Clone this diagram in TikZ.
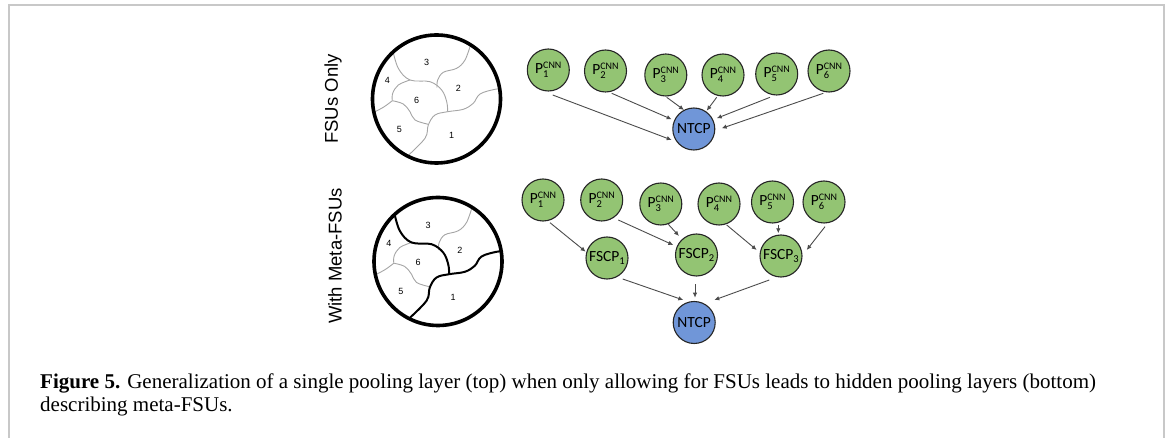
\documentclass[tikz,border=0pt]{standalone}
\usepackage{fontspec}
\setmainfont{Liberation Serif}
\newfontfamily\labelfont{Liberation Sans}
\newfontfamily\nodefont{Carlito}
\usetikzlibrary{arrows.meta,calc}

\definecolor{poolgreen}{RGB}{147,196,115}
\definecolor{poolblue}{RGB}{112,150,216}
\definecolor{framegray}{RGB}{200,200,200}
\definecolor{sepgray}{RGB}{165,165,165}
\definecolor{arrowgray}{RGB}{75,75,75}

\tikzset{
  pool/.style={circle, draw=black!85, line width=1.1pt, fill=poolgreen,
    minimum size=42pt, inner sep=0pt, font=\nodefont\fontsize{15.5}{15.5}\selectfont},
  poolout/.style={pool, fill=poolblue},
  link/.style={draw=arrowgray, line width=0.9pt, -{Latex[length=5pt,width=4.5pt]}},
  sep/.style={sepgray, line width=0.9pt},
  metasep/.style={black, line width=2pt},
  fsunum/.style={font=\labelfont\fontsize{9}{9}\selectfont},
  rowlabel/.style={rotate=90, font=\labelfont\fontsize{18.5}{18.5}\selectfont},
  rim/.style={black, line width=3.6pt},
}

% pooling node labels
\newcommand\pcnn[1]{P\rlap{\raisebox{-4pt}{\fontsize{10.5}{10.5}\selectfont #1}}\raisebox{5pt}{\fontsize{10}{10}\selectfont CNN}}
\newcommand\fscp[1]{FSCP\raisebox{-3.5pt}{\fontsize{10.5}{10.5}\selectfont #1}}

% borders between the six FSUs of a sample, relative to the sample centre
% #1: style of the borders between meta-FSUs, #2: style of the remaining borders
\newcommand\fsuborders[2]{%
  \begin{scope}
    \clip (0,0) circle (64);
    % 3 | 2
    \draw[#2] plot[smooth,tension=0.6] coordinates {(34,-54) (28.5,-39) (20.2,-30.7) (6.8,-26.7) (1.2,-19) (0.5,-11.5)};
    % 4 | 6 and 4 | 5
    \draw[#2] plot[smooth,tension=0.6] coordinates {(-26.5,-19) (-38.2,-14) (-43.8,-5.7) (-44.2,1.7)};
    \draw[#2] plot[smooth,tension=0.6] coordinates {(-44.2,1.7) (-53.2,8.3) (-66,15)};
    % 5 | 6
    \draw[#2] plot[smooth,tension=0.6] coordinates {(-44.2,1.7) (-33.2,5) (-26.5,12.7) (-21.5,21) (-8.2,25.3)};
    % 4 | 3 and 3 | 6
    \draw[#1] plot[smooth,tension=0.6] coordinates {(-44,-50) (-38.2,-30.7) (-26.5,-19) (-6.5,-17.3) (5.2,-9) (10.2,2.7) (11.2,12.7)};
    % 5,6 | 1 and 2 | 1
    \draw[#1] plot[smooth,tension=0.6] coordinates {(-30,58) (-11.5,39.3) (-8.2,26) (-1.5,16) (11.2,12.7) (26.8,10.3) (36.8,4.3) (43.5,-5) (58.5,-9.7) (66,-10)};
  \end{scope}
  \draw[rim] (0,0) circle (64);
  \node[fsunum] (n3) at (-9.8,-36.3) {3};
  \node[fsunum] (n4) at (-49.2,-18.3) {4};
  \node[fsunum] (n2) at (21.8,-10.7) {2};
  \node[fsunum] (n6) at (-19.8,1) {6};
  \node[fsunum] (n5) at (-37.2,30.3) {5};
  \node[fsunum] (n1) at (15.2,36) {1};
}

\begin{document}
\begin{tikzpicture}[x=1pt,y=-1pt]
  \useasboundingbox (0,0) rectangle (1168,438);

  % page frame
  \draw[framegray, line width=2pt] (8.5,440) -- (8.5,5.5) -- (1164,5.5) -- (1164,440);

  % row titles
  \node[rowlabel] (t1) at (333,99) {FSUs Only};
  \node[rowlabel] (t2) at (335,256) {With Meta-FSUs};

  % sample partitions
  \begin{scope}[shift={(436.5,99)}]
    \fsuborders{sep}{sep}
  \end{scope}
  \begin{scope}[shift={(438,261.5)}]
    \fsuborders{metasep}{sep}
  \end{scope}

  % single pooling layer
  \node[pool] (p1) at (548.3,70) {\pcnn{1}};
  \node[pool] (p2) at (605.5,71) {\pcnn{2}};
  \node[pool] (p3) at (665.8,75) {\pcnn{3}};
  \node[pool] (p4) at (723,75)   {\pcnn{4}};
  \node[pool] (p5) at (776.7,74) {\pcnn{5}};
  \node[pool] (p6) at (829,71)   {\pcnn{6}};
  \node[poolout] (nt) at (693.8,129) {NTCP};

  \draw[link] ($(p1)+(4.4,25)$)  -- ($(nt)+(-22.1,11)$);
  \draw[link] ($(p2)+(6.2,22.3)$) -- ($(nt)+(-22.1,-9.7)$);
  \draw[link] ($(p3)+(0.9,22.3)$) -- ($(nt)+(-9.8,-19)$);
  \draw[link] ($(p4)+(-6.3,22.3)$) -- ($(nt)+(12.9,-18.3)$);
  \draw[link] ($(p5)+(-6.7,23.3)$) -- ($(nt)+(22.9,-10.7)$);
  \draw[link] ($(p6)+(-5.7,22.3)$) -- ($(nt)+(27.9,-0.7)$);

  % hidden pooling layer
  \node[pool] (q1) at (543,200)   {\pcnn{1}};
  \node[pool] (q2) at (601.7,200) {\pcnn{2}};
  \node[pool] (q3) at (660.8,204) {\pcnn{3}};
  \node[pool] (q4) at (719,204)   {\pcnn{4}};
  \node[pool] (q5) at (772.5,202) {\pcnn{5}};
  \node[pool] (q6) at (824,202)   {\pcnn{6}};
  \node[pool] (f1) at (607,258)   {\fscp{1}};
  \node[pool] (f2) at (696.5,255) {\fscp{2}};
  \node[pool] (f3) at (781,256)   {\fscp{3}};
  \node[poolout] (nb) at (694.2,322.5) {NTCP};

  \draw[link] ($(q1)+(7,22.7)$)   -- ($(f1)+(-21.3,-6.3)$);
  \draw[link] ($(q2)+(16.6,20)$)  -- ($(f2)+(-23.2,-10)$);
  \draw[link] ($(q3)+(7.5,20.3)$) -- ($(f2)+(-17.5,-19)$);
  \draw[link] ($(q4)+(7.7,21)$)   -- ($(f3)+(-24.3,-6)$);
  \draw[link] ($(q5)+(5.8,23)$)   -- ($(f3)+(-2.7,-22.7)$);
  \draw[link] ($(q6)+(1,24.7)$)   -- ($(f3)+(25.7,-6)$);
  \draw[link] ($(f1)+(15.7,21)$)  -- ($(nb)+(-10.9,-22.5)$);
  \draw[link] ($(f2)+(-1.5,29.3)$) -- ($(nb)+(0.8,-24.8)$);
  \draw[link] ($(f3)+(-11.7,24)$) -- ($(nb)+(20.1,-22.5)$);

  % caption (the base anchor sits on the last line)
  \node[anchor=base west, align=left, inner sep=0pt, font=\fontsize{21}{23}\selectfont] (cap) at (40,411)
    {\textbf{Figure 5.} Generalization of a single pooling layer (top) when only allowing for FSUs leads to hidden pooling layers (bottom)\\
     describing meta-FSUs.};
\end{tikzpicture}
\end{document}
